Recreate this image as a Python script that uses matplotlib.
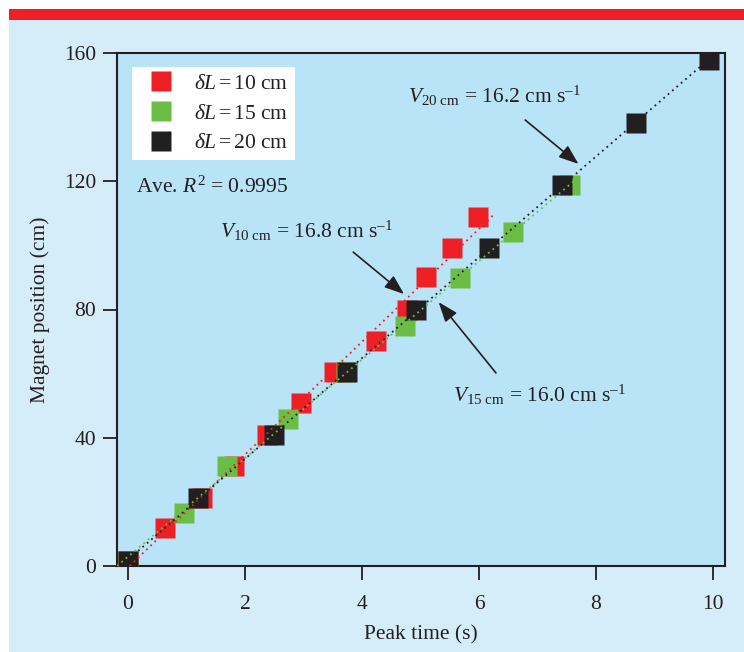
import numpy as np
import matplotlib
matplotlib.use("Agg")
import matplotlib.pyplot as plt
from matplotlib.lines import Line2D
from matplotlib.patches import Rectangle

# Fonts: Times-like serif everywhere, mathtext mapped to the same family
plt.rcParams['font.family'] = ['Liberation Serif', 'DejaVu Serif']
plt.rcParams['mathtext.fontset'] = 'custom'
plt.rcParams['mathtext.rm'] = 'Liberation Serif'
plt.rcParams['mathtext.it'] = 'Liberation Serif:italic'
plt.rcParams['mathtext.bf'] = 'Liberation Serif:bold'

# Colours
RED = '#ee1f25'
GREEN = '#6bbd45'
BLACK = '#231f20'
PANEL = '#d5ecf9'
AXBG = '#b9e4f8'
FS = 15.5

# Data: peak time (s) vs magnet position (cm), one set per coil spacing
t_10 = [0.00, 0.63, 1.27, 1.81, 2.38, 2.96, 3.52, 4.24, 4.77, 5.09, 5.54, 5.98]
pos_10 = [1.7, 11.9, 21.2, 31.2, 40.9, 50.8, 60.5, 70.2, 79.9, 90.1, 99.2, 108.9]

t_15 = [0.00, 0.96, 1.69, 2.74, 3.72, 4.74, 5.68, 6.58, 7.56]
pos_15 = [1.7, 16.5, 31.2, 45.9, 60.5, 74.9, 89.8, 104.2, 118.8]

t_20 = [0.00, 1.20, 2.50, 3.74, 4.92, 6.17, 7.42, 8.68, 9.93]
pos_20 = [1.7, 21.2, 40.9, 60.5, 79.9, 99.2, 118.8, 138.2, 157.8]

labels = [r'$\delta L\,$=$\,$10 cm', r'$\delta L\,$=$\,$15 cm', r'$\delta L\,$=$\,$20 cm']
colors = [RED, GREEN, BLACK]

x_ticks = [0, 2, 4, 6, 8, 10]
y_ticks = [0, 40, 80, 120, 160]

fig = plt.figure(figsize=(7.44, 6.52), dpi=100, facecolor='white')

# background panel with red band on top
fig.patches.append(Rectangle((9 / 744, 0), 1, 1 - 20 / 652, transform=fig.transFigure,
                             facecolor=PANEL, edgecolor='none', zorder=-10))
fig.patches.append(Rectangle((9 / 744, 1 - 20 / 652), 1, 10.7 / 652, transform=fig.transFigure,
                             facecolor=RED, edgecolor='none', zorder=-10))

ax = fig.add_axes([117 / 744, 1 - 566 / 652, 608 / 744, 513 / 652])
ax.set_facecolor(AXBG)

series = [(t_10, pos_10), (t_15, pos_15), (t_20, pos_20)]
line_pad = [0.3, 0.1, 0.3]

# squares first, then the dotted fit lines on top
for (t, p), c in zip(series, colors):
    ax.plot(t, p, linestyle='none', marker='s', markersize=14.5,
            markerfacecolor=c, markeredgecolor='none', zorder=3)

for (t, p), c, pad in zip(series, colors, line_pad):
    slope, icpt = np.polyfit(t, p, 1)
    xs = np.array([-icpt / slope, max(t) + pad])
    ax.plot(xs, slope * xs + icpt, linestyle=(0, (1, 2.2)), lw=1.3, color=c, zorder=4)

ax.set_xlim(-0.188, 10.205)
ax.set_ylim(0, 160)
ax.set_xticks(x_ticks)
ax.set_yticks(y_ticks)
ax.tick_params(direction='out', length=10, width=1.3, color=BLACK,
               labelsize=FS, labelcolor=BLACK, pad=5)
ax.tick_params(axis='x', pad=11)
for s in ax.spines.values():
    s.set_linewidth(1.5)
    s.set_color(BLACK)

ax.set_xlabel('Peak time (s)', fontsize=FS, color=BLACK, labelpad=8)
ax.set_ylabel('Magnet position (cm)', fontsize=FS, color=BLACK, labelpad=10)

# legend
handles = [Line2D([], [], linestyle='none', marker='s', markersize=14.5,
                  markerfacecolor=c, markeredgecolor='none') for c in colors]
leg = ax.legend(handles, labels, loc='upper left', bbox_to_anchor=(0.0247, 0.9727),
                borderaxespad=0, fontsize=FS, frameon=True, fancybox=False,
                framealpha=1, edgecolor='white', facecolor='white',
                borderpad=0.32, handlelength=2.06, handletextpad=0.5,
                labelspacing=0.45)
leg.get_frame().set_linewidth(0)
for txt in leg.get_texts():
    txt.set_color(BLACK)

ax.text(0.14, 116.3, r'Ave. $R^2$ = 0.9995', fontsize=FS, color=BLACK, va='baseline')

# velocity annotations
ann = [
    (r'$V_{\mathrm{10\ cm}}$ = 16.8 cm s$^{\mathrm{–1}}$', (1.57, 102.3), (3.85, 97.9), (4.72, 84.8)),
    (r'$V_{\mathrm{20\ cm}}$ = 16.2 cm s$^{\mathrm{–1}}$', (4.79, 144.4), (6.79, 139.1), (7.70, 125.4)),
    (r'$V_{\mathrm{15\ cm}}$ = 16.0 cm s$^{\mathrm{–1}}$', (5.56, 51.2), (6.29, 60.2), (5.31, 82.3)),
]
for text, tpos, start, end in ann:
    ax.text(tpos[0], tpos[1], text, fontsize=FS, color=BLACK, va='baseline', zorder=6)
    ax.annotate('', xy=end, xytext=start,
                arrowprops=dict(arrowstyle='-|>,head_length=0.8,head_width=0.3',
                                mutation_scale=15, lw=1.2, color=BLACK,
                                shrinkA=0, shrinkB=0),
                zorder=6)

fig.savefig('out.png', dpi=100, facecolor=fig.get_facecolor())
